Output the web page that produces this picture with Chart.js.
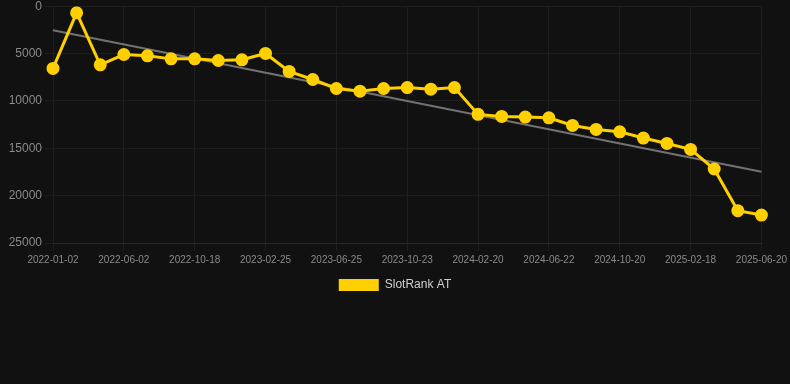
<!DOCTYPE html>
<html>
<head>
<meta charset="utf-8">
<script src="https://cdn.jsdelivr.net/npm/chart.js@4/dist/chart.umd.min.js"></script>
<style>
html,body{margin:0;padding:0;background:#111111;overflow:hidden;}
#wrap{position:relative;width:790px;height:305px;margin-top:-4px;}
</style>
</head>
<body>
<div id="wrap"><canvas id="c"></canvas></div>
<script>
const categories = [
  "2022-01-02","2022-02-21","2022-04-12",
  "2022-06-02","2022-07-18","2022-09-02",
  "2022-10-18","2022-12-01","2023-01-13",
  "2023-02-25","2023-04-06","2023-05-16",
  "2023-06-25","2023-08-04","2023-09-13",
  "2023-10-23","2023-12-02","2024-01-11",
  "2024-02-20","2024-04-01","2024-05-12",
  "2024-06-22","2024-08-01","2024-09-10",
  "2024-10-20","2024-11-29","2025-01-08",
  "2025-02-18","2025-03-30","2025-05-10",
  "2025-06-20"
];
const slotRankAT = [
  6570, 700, 6190, 5100, 5240, 5560, 5560, 5730, 5660, 4990,
  6890, 7740, 8690, 8970, 8690, 8590, 8760, 8590, 11420, 11640,
  11710, 11780, 12590, 13010, 13260, 13920, 14490, 15120, 17190, 21590,
  22050
];
const trendStart = 2530;
const trendEnd = 17480;
const yTicks = [0, 5000, 10000, 15000, 20000, 25000];

const trend = categories.map((_, i) => i === 0 ? trendStart : (i === categories.length - 1 ? trendEnd : null));

new Chart(document.getElementById('c'), {
  type: 'line',
  data: {
    labels: categories,
    datasets: [
      {
        label: 'SlotRank AT',
        data: slotRankAT,
        borderColor: '#FFD000',
        backgroundColor: '#FFD000',
        borderWidth: 3,
        pointRadius: 5,
        pointHoverRadius: 5,
        pointBackgroundColor: '#FFD000',
        pointBorderColor: '#FFD000',
        tension: 0,
        order: 1
      },
      {
        label: 'trend',
        data: trend,
        borderColor: '#727272',
        borderWidth: 2,
        pointRadius: 0,
        spanGaps: true,
        fill: false,
        order: 2
      }
    ]
  },
  options: {
    responsive: true,
    maintainAspectRatio: false,
    animation: false,
    plugins: {
      legend: {
        position: 'bottom',
        labels: {
          color: '#d0d0d0',
          font: { size: 12, family: 'Liberation Sans, Arial, sans-serif' },
          boxWidth: 40,
          boxHeight: 12,
          filter: (item) => item.text === 'SlotRank AT',
          generateLabels: (chart) => Chart.defaults.plugins.legend.labels.generateLabels(chart).map(it => Object.assign(it, { lineWidth: 0 }))
        }
      },
      tooltip: { enabled: false }
    },
    scales: {
      x: {
        grid: {
          color: (ctx) => (ctx.index % 3 === 0 ? '#1e1e1e' : 'rgba(0,0,0,0)'),
          drawTicks: true
        },
        border: { color: '#2a2a2a' },
        ticks: {
          color: '#8a8a8a',
          font: { size: 10, family: 'Liberation Sans, Arial, sans-serif' },
          maxRotation: 0,
          autoSkip: false,
          callback: function(v, i) { return i % 3 === 0 ? categories[i] : ''; }
        }
      },
      y: {
        reverse: true,
        min: 0,
        max: 25000,
        afterBuildTicks: (axis) => { axis.ticks = yTicks.map(v => ({ value: v })); },
        afterFit: (axis) => { axis.width = 53; },
        grid: { color: '#1e1e1e' },
        border: { color: '#1e1e1e' },
        ticks: {
          color: '#8a8a8a',
          font: { size: 12, family: 'Liberation Sans, Arial, sans-serif' },
          callback: (v) => String(v)
        }
      }
    }
  }
});
</script>
</body>
</html>
